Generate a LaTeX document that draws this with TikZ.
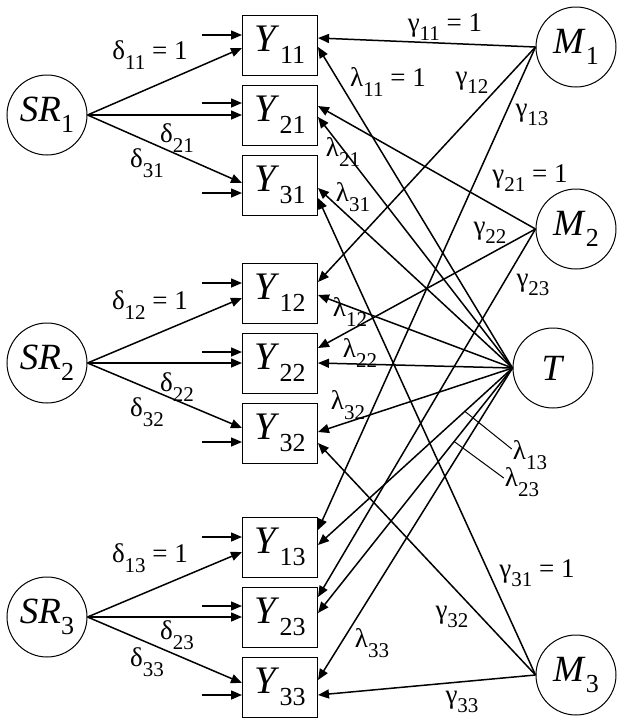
\documentclass[tikz,border=0pt]{standalone}
\usepackage{fontspec}
\setmainfont{Liberation Serif}
\usepackage{tikz}
\usetikzlibrary{arrows.meta,positioning}

\newcommand{\nsub}[1]{\raisebox{-0.3em}{\fontsize{26}{26}\selectfont #1}}
\newcommand{\lsub}[1]{\raisebox{-0.35em}{\fontsize{21}{21}\selectfont #1}}

\tikzset{
  latent/.style={circle, draw, line width=1pt, minimum size=80pt, inner sep=0pt, font=\fontsize{37}{37}\selectfont},
  obs/.style={rectangle, draw, line width=1pt, minimum width=75pt, minimum height=60pt, inner sep=0pt, font=\fontsize{39}{39}\selectfont},
  lab/.style={inner sep=1pt, font=\fontsize{27}{27}\selectfont},
  arr/.style={->, line width=1.5pt},
  lead/.style={line width=1pt}
}

\begin{document}
\begin{tikzpicture}[x=1pt,y=-1pt,>={Triangle[length=11pt,width=9pt]},node distance=70pt,on grid]
   \useasboundingbox (0,0) rectangle (624,724);
   % indicators
   \node[obs] (Y11) at (280,45) {\textit{Y}\nsub{11}};
   \node[obs] (Y21) [below=of Y11] {\textit{Y}\nsub{21}};
   \node[obs] (Y31) [below=of Y21] {\textit{Y}\nsub{31}};
   \node[obs] (Y12) at (280,293) {\textit{Y}\nsub{12}};
   \node[obs] (Y22) [below=of Y12] {\textit{Y}\nsub{22}};
   \node[obs] (Y32) [below=of Y22] {\textit{Y}\nsub{32}};
   \node[obs] (Y13) at (280,547) {\textit{Y}\nsub{13}};
   \node[obs] (Y23) [below=of Y13] {\textit{Y}\nsub{23}};
   \node[obs] (Y33) [below=of Y23] {\textit{Y}\nsub{33}};
   % factors
   \node[latent] (SR1) [left=233pt of Y21] {\textit{SR}\nsub{1}};
   \node[latent] (SR2) [left=233pt of Y22] {\textit{SR}\nsub{2}};
   \node[latent] (SR3) [left=233pt of Y23] {\textit{SR}\nsub{3}};
   \node[latent] (M1) at (576,47) {\textit{M}\nsub{1}};
   \node[latent] (M2) at (576,229) {\textit{M}\nsub{2}};
   \node[latent] (T) at (553,368) {\textit{T}};
   \node[latent] (M3) at (576,675) {\textit{M}\nsub{3}};
   % error terms
   \coordinate (e11) at ([xshift=-40pt,yshift=10pt]Y11.west);
   \coordinate (e21) at ([xshift=-40pt,yshift=12pt]Y21.west);
   \coordinate (e31) at ([xshift=-40pt,yshift=-8pt]Y31.west);
   \coordinate (e12) at ([xshift=-40pt,yshift=10pt]Y12.west);
   \coordinate (e22) at ([xshift=-40pt,yshift=11pt]Y22.west);
   \coordinate (e32) at ([xshift=-40pt,yshift=-9pt]Y32.west);
   \coordinate (e13) at ([xshift=-40pt,yshift=10pt]Y13.west);
   \coordinate (e23) at ([xshift=-40pt,yshift=11pt]Y23.west);
   \coordinate (e33) at ([xshift=-40pt,yshift=-8pt]Y33.west);
    \path[arr]
	(e11) edge ([yshift=10pt]Y11.west)
	(e21) edge ([yshift=12pt]Y21.west)
	(e31) edge ([yshift=-8pt]Y31.west)
	(e12) edge ([yshift=10pt]Y12.west)
	(e22) edge ([yshift=11pt]Y22.west)
	(e32) edge ([yshift=-9pt]Y32.west)
	(e13) edge ([yshift=10pt]Y13.west)
	(e23) edge ([yshift=11pt]Y23.west)
	(e33) edge ([yshift=-8pt]Y33.west)
	;
    \path[arr]
	(SR1.east) edge ([yshift=-3pt]Y11.west)
	(SR1.east) edge (Y21.west)
	(SR1.east) edge ([yshift=2pt]Y31.west)
	(SR2.east) edge ([yshift=-5pt]Y12.west)
	(SR2.east) edge (Y22.west)
	(SR2.east) edge ([yshift=5pt]Y32.west)
	(SR3.east) edge ([yshift=-5pt]Y13.west)
	(SR3.east) edge (Y23.west)
	(SR3.east) edge ([yshift=4pt]Y33.west)
	;
    \path[arr]
	(M1.west) edge ([yshift=7pt]Y11.east)
	(M1.west) edge ([yshift=11pt]Y12.east)
	(M1.west) edge ([yshift=17pt]Y13.east)
	(M2.west) edge ([yshift=9pt]Y21.east)
	(M2.west) edge ([yshift=15pt]Y22.east)
	(M2.west) edge ([yshift=20pt]Y23.east)
	(M3.west) edge ([yshift=-13pt]Y31.east)
	(M3.west) edge ([yshift=-10pt]Y32.east)
	(M3.west) edge ([yshift=-8pt]Y33.east)
	(T.west) edge ([yshift=-2pt]Y11.east)
	(T.west) edge ([yshift=-2pt]Y21.east)
	(T.west) edge ([yshift=-3pt]Y31.east)
	(T.west) edge ([yshift=-2pt]Y12.east)
	(T.west) edge (Y22.east)
	(T.west) edge ([yshift=1pt]Y32.east)
	(T.west) edge node[coordinate,pos=0.245] (c13) {} ([yshift=2pt]Y13.east)
	(T.west) edge node[coordinate,pos=0.3] (c23) {} ([yshift=4pt]Y23.east)
	(T.west) edge ([yshift=7pt]Y33.east)
	;
   % loadings
   \node[lab] (d11) at (150,55) {δ\lsub{11} = 1};
   \node[lab] (d21) at (177,138) {δ\lsub{21}};
   \node[lab] (d31) at (147,163) {δ\lsub{31}};
   \node[lab] (d12) at (150,305) {δ\lsub{12} = 1};
   \node[lab] (d22) at (177,387) {δ\lsub{22}};
   \node[lab] (d32) at (147,412) {δ\lsub{32}};
   \node[lab] (d13) at (150,558) {δ\lsub{13} = 1};
   \node[lab] (d23) at (177,635) {δ\lsub{23}};
   \node[lab] (d33) at (147,662) {δ\lsub{33}};
   \node[lab] (g11) at (445,27) {γ\lsub{11} = 1};
   \node[lab] (g12) at (472,83) {γ\lsub{12}};
   \node[lab] (g13) at (532,115) {γ\lsub{13}};
   \node[lab] (g21) at (530,178) {γ\lsub{21} = 1};
   \node[lab] (g22) at (490,233) {γ\lsub{22}};
   \node[lab] (g23) at (533,285) {γ\lsub{23}};
   \node[lab] (g31) at (537,573) {γ\lsub{31} = 1};
   \node[lab] (g32) at (452,617) {γ\lsub{32}};
   \node[lab] (g33) at (462,702) {γ\lsub{33}};
   \node[lab] (l11) at (388,82) {λ\lsub{11} = 1};
   \node[lab] (l21) at (343,152) {λ\lsub{21}};
   \node[lab] (l31) at (353,197) {λ\lsub{31}};
   \node[lab] (l12) at (350,312) {λ\lsub{12}};
   \node[lab] (l22) at (360,353) {λ\lsub{22}};
   \node[lab] (l32) at (348,405) {λ\lsub{32}};
   \node[lab] (L13) at (530,455) {λ\lsub{13}};
   \node[lab] (L23) at (522,482) {λ\lsub{23}};
   \node[lab] (l33) at (372,643) {λ\lsub{33}};
   \draw[lead] (c13) -- ([yshift=6pt]L13.west);
   \draw[lead] (c23) -- ([yshift=4pt]L23.west);
\end{tikzpicture}
\end{document}
